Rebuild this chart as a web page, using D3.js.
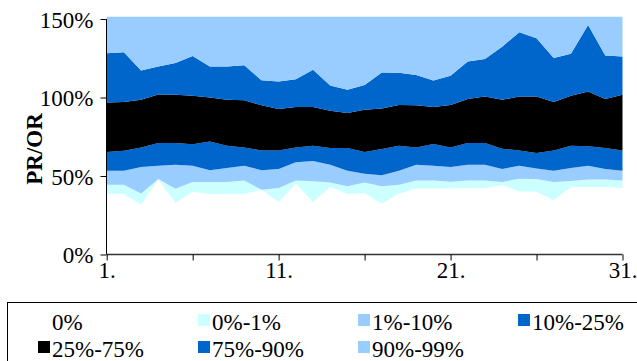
<!DOCTYPE html>
<html><head><meta charset="utf-8">
<script src="https://cdn.jsdelivr.net/npm/d3@7"></script>
<style>html,body{margin:0;padding:0;background:#fff;}svg{display:block;}</style>
</head><body>
<svg id="c" width="637" height="361"></svg>
<script>
const days = d3.range(1, 32);
const p0  = [38.6,38.6,31.8,47.7,32.9,39.9,38.6,38.6,38.6,41.3,33.5,45.1,33.5,43.0,38.6,39.2,32.4,38.8,42.0,42.0,42.0,42.4,42.4,44.1,40.2,39.9,34.5,43.0,43.0,43.0,42.4];
const p1  = [44.5,44.5,38.8,48.1,41.8,46.2,46.2,46.2,47.2,41.3,42.4,47.2,46.6,45.9,43.4,45.9,43.4,44.5,47.2,47.2,46.4,47.2,47.2,46.2,48.3,48.1,46.2,46.8,47.7,47.7,47.2];
const p10 = [53.4,53.4,55.8,56.6,57.2,56.6,53.6,55.1,56.6,53.6,54.5,58.8,59.6,57.2,53.4,51.5,50.4,53.4,57.2,56.6,55.8,57.2,57.2,54.5,56.6,54.7,53.4,55.1,56.6,54.5,53.4];
const p25 = [65.3,66.1,68.2,71.0,71.0,70.3,72.0,69.3,68.2,66.3,66.3,68.2,69.3,67.8,67.8,65.3,67.2,69.3,68.2,70.4,68.2,71.0,71.0,67.4,66.3,64.7,66.3,69.3,68.9,67.8,66.3];
const p75 = [96.8,97.1,98.6,101.9,101.7,101.1,100.0,98.5,98.3,95.0,92.6,93.9,93.9,91.5,90.1,92.2,93.0,95.2,95.0,93.9,95.2,99.0,100.6,98.5,100.6,100.6,97.1,101.1,103.8,99.1,101.7];
const p90 = [128.2,128.9,117.2,119.7,121.9,126.5,119.7,119.7,120.6,111.0,110.2,111.7,117.6,107.6,104.9,107.9,115.9,115.7,114.4,110.8,113.8,123.0,124.6,132.4,141.6,137.7,125.1,127.8,146.2,126.7,126.1];
const p99 = [151.5,151.5,151.5,151.5,151.5,151.5,151.5,151.5,151.5,151.5,151.5,151.5,151.5,151.5,151.5,151.5,151.5,151.5,151.5,151.5,151.5,151.5,151.5,151.5,151.5,151.5,151.5,151.5,151.5,151.5,151.5];
const zeros = days.map(() => 0);

const seriesNames = ["0%","0%-1%","1%-10%","10%-25%","25%-75%","75%-90%","90%-99%"];
const seriesColors = ["#FFFFFF","#CCFFFF","#99CCFF","#0066CC","#000000","#0066CC","#99CCFF"];
const bounds = [zeros, p0, p1, p10, p25, p75, p90, p99];

const yTicks = [0, 50, 100, 150];
const xTicks = [1, 6, 11, 16, 21, 26, 31];
const xLabels = [1, 11, 21, 31];

const svg = d3.select("#c");
const font = "Liberation Serif, Times New Roman, serif";
const fs = 23;
const x = d3.scaleLinear().domain([1, 31]).range([106.7, 622.5]);
const y = d3.scaleLinear().domain([0, 150]).range([254.5, 19]);

const g = svg.append("g");
for (let i = 0; i < seriesNames.length; i++) {
  const lo = bounds[i], hi = bounds[i + 1];
  const area = d3.area()
    .x((d, j) => x(days[j]))
    .y0((d, j) => y(lo[j]))
    .y1((d, j) => y(hi[j]));
  g.append("path").datum(days).attr("d", area)
    .attr("fill", seriesColors[i]).attr("stroke", "none");
}

// Y axis
const yAxis = d3.axisLeft(y).tickValues(yTicks).tickSize(6).tickFormat(d => d + "%");
const ya = svg.append("g").attr("transform", "translate(106.5,0)").call(yAxis)
  .attr("font-family", font).attr("font-size", fs);
ya.select(".domain").attr("stroke", "#000").attr("d", "M0," + y(150) + "V" + y(0));
ya.selectAll(".tick line").attr("stroke", "#000");
ya.selectAll("text").style("font-family", font).style("font-size", fs + "px").attr("fill", "#000")
  .attr("x", -13).attr("dy", "0.35em");

// X axis
const xAxis = d3.axisBottom(x).tickValues(xTicks).tickSize(6)
  .tickFormat(d => xLabels.includes(d) ? d + "." : "");
const xa = svg.append("g").attr("transform", "translate(0," + (y(0)) + ")").call(xAxis)
  .attr("font-family", font).attr("font-size", fs);
xa.select(".domain").attr("stroke", "#333").attr("stroke-width", 1.5).attr("d", "M" + x(1) + ",0H" + x(31));
xa.selectAll(".tick line").attr("stroke", "#000");
xa.selectAll("text").style("font-family", font).style("font-size", fs + "px").attr("fill", "#000")
  .attr("y", 7).attr("dy", "0.71em");

// Y title
svg.append("text").attr("transform", "translate(42,149) rotate(-90)")
  .attr("text-anchor", "middle").style("font-family", font).style("font-size", fs + "px")
  .attr("font-weight", "bold").text("PR/OR");

// Legend
svg.append("rect").attr("x", 7.5).attr("y", 302.5).attr("width", 640).attr("height", 70)
  .attr("fill", "#fff").attr("stroke", "#000").attr("stroke-width", 1);
const legPos = [[38,330],[198,330],[358,330],[518,330],[38,357],[198,357],[358,357]];
seriesNames.forEach((n, i) => {
  const [lx, ly] = legPos[i];
  svg.append("rect").attr("x", lx).attr("y", ly - 16).attr("width", 12).attr("height", 12)
    .attr("fill", seriesColors[i]);
  svg.append("text").attr("x", lx + 14).attr("y", ly).style("font-family", font)
    .style("font-size", fs + "px").attr("fill", "#000").text(n);
});
</script>
</body></html>
